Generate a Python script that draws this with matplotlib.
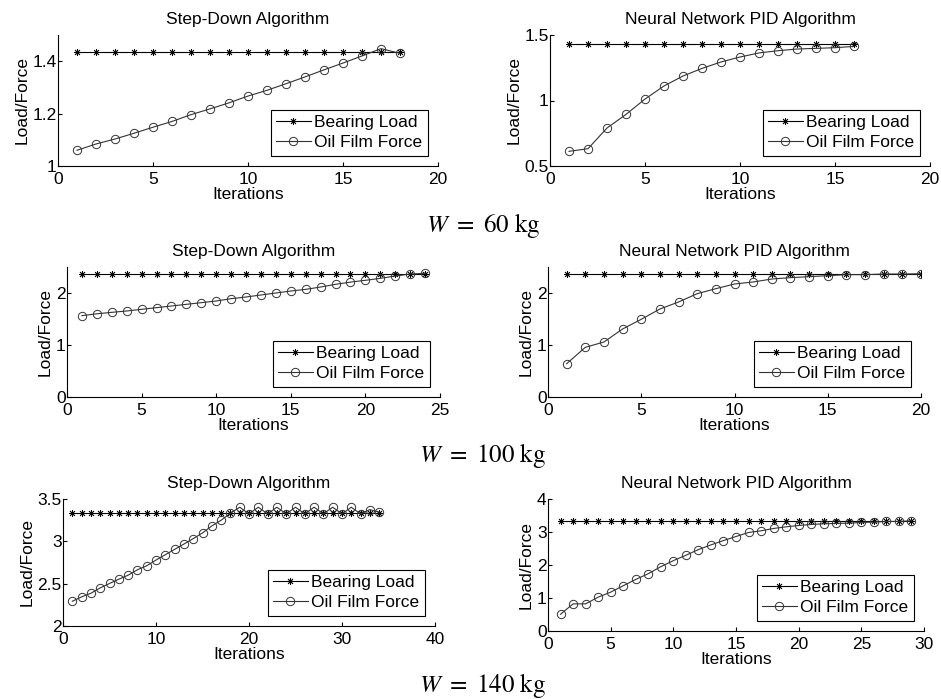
import numpy as np
import matplotlib.pyplot as plt

plt.rcParams['font.family'] = ['Liberation Sans', 'DejaVu Sans']
plt.rcParams['mathtext.fontset'] = 'stix'

# W = 60 kg
bl_60 = 1.435
sd_60 = [1.06, 1.084, 1.103, 1.125, 1.148, 1.170, 1.196, 1.218, 1.241, 1.267,
         1.289, 1.314, 1.340, 1.367, 1.393, 1.420, 1.448, 1.430]
nn_60 = [0.612, 0.632, 0.79, 0.894, 1.011, 1.111, 1.187, 1.245, 1.294, 1.332,
         1.363, 1.380, 1.393, 1.398, 1.403, 1.413]
# W = 100 kg
bl_100 = 2.37
sd_100 = [1.564, 1.60, 1.628, 1.654, 1.686, 1.718, 1.75, 1.782, 1.814, 1.846,
          1.891, 1.923, 1.962, 2.0, 2.038, 2.07, 2.115, 2.167, 2.21, 2.244,
          2.282, 2.327, 2.365, 2.378]
nn_100 = [0.64, 0.955, 1.058, 1.308, 1.494, 1.692, 1.827, 1.987, 2.083, 2.173,
          2.212, 2.269, 2.295, 2.314, 2.333, 2.353, 2.353, 2.365, 2.365, 2.37]
# W = 140 kg
bl_140 = 3.34
sd_140 = [2.292, 2.344, 2.387, 2.45, 2.502, 2.553, 2.60, 2.664, 2.711, 2.779,
          2.842, 2.905, 2.968, 3.032, 3.099, 3.182, 3.249, 3.332, 3.403, 3.324,
          3.403, 3.324, 3.403, 3.324, 3.403, 3.324, 3.403, 3.324, 3.403, 3.324,
          3.403, 3.324, 3.375, 3.344]
nn_140 = [0.508, 0.822, 0.822, 1.025, 1.178, 1.371, 1.563, 1.736, 1.949, 2.132,
          2.294, 2.467, 2.609, 2.741, 2.863, 2.985, 3.036, 3.107, 3.157, 3.198,
          3.228, 3.249, 3.259, 3.269, 3.289, 3.30, 3.32, 3.32, 3.34]

W, H = 941, 699
fig = plt.figure(figsize=(W / 100, H / 100), dpi=100)

def px_axes(l, t, r, b):
    return fig.add_axes([l / W, 1 - b / H, (r - l) / W, (b - t) / H])

# (left, top, right, bottom) px, title, bearing, oil, xlim, xticks, ylim, yticks, ticklabels
panels = [
    ((58, 35, 438, 166), 'Step-Down Algorithm', bl_60, sd_60, 20, [0, 5, 10, 15, 20],
     (1, 1.5), [1, 1.2, 1.4], ['1', '1.2', '1.4']),
    ((550, 35, 930, 166), 'Neural Network PID Algorithm', bl_60, nn_60, 20, [0, 5, 10, 15, 20],
     (0.5, 1.5), [0.5, 1, 1.5], ['0.5', '1', '1.5']),
    ((67, 267, 440, 397), 'Step-Down Algorithm', bl_100, sd_100, 25, [0, 5, 10, 15, 20, 25],
     (0, 2.5), [0, 1, 2], ['0', '1', '2']),
    ((548, 267, 921, 397), 'Neural Network PID Algorithm', bl_100, nn_100, 20, [0, 5, 10, 15, 20],
     (0, 2.5), [0, 1, 2], ['0', '1', '2']),
    ((63, 499, 435, 626), 'Step-Down Algorithm', bl_140, sd_140, 40, [0, 10, 20, 30, 40],
     (2, 3.5), [2, 2.5, 3, 3.5], ['2', '2.5', '3', '3.5']),
    ((548, 499, 924, 631), 'Neural Network PID Algorithm', bl_140, nn_140, 30, [0, 5, 10, 15, 20, 25, 30],
     (0, 4), [0, 1, 2, 3, 4], ['0', '1', '2', '3', '4']),
]

for box, title, bl, oil, xmax, xt, yl, yt, ytl in panels:
    ax = px_axes(*box)
    x = np.arange(1, len(oil) + 1)
    ax.plot(x, [bl] * len(x), color='black', lw=0.8, marker=(8, 2, 0), ms=5,
            mew=0.6, label='Bearing Load')
    ax.plot(x, oil, color='#333333', lw=0.8, marker='o', ms=6, mfc='none',
            mew=0.7, label='Oil Film Force')
    ax.set_xlim(0, xmax)
    ax.set_ylim(*yl)
    ax.set_xticks(xt)
    ax.set_yticks(yt)
    ax.set_yticklabels(ytl)
    ax.spines['top'].set_visible(False)
    ax.spines['right'].set_visible(False)
    ax.tick_params(direction='in', length=3, labelsize=12.5)
    ax.tick_params(axis='x', pad=4)
    ax.tick_params(axis='y', pad=1)
    ax.set_xlabel('Iterations', fontsize=12.5, labelpad=0)
    ax.set_ylabel('Load/Force', fontsize=12.5, labelpad=2)
    ax.set_title(title, fontsize=12.5, pad=8)
    leg = ax.legend(loc='lower right', fontsize=12.5, fancybox=False, framealpha=1,
                    edgecolor='black', borderpad=0.3, handlelength=2.0,
                    handletextpad=0.2, labelspacing=0.3, borderaxespad=0.6)
    leg.get_frame().set_linewidth(0.8)

for label, y in [('60', 225), ('100', 455), ('140', 685)]:
    fig.text(483 / W, 1 - y / H, r'$W\ =\ %s\ \mathrm{kg}$' % label,
             ha='center', va='center', fontsize=18)

fig.savefig('out.png', dpi=100)
